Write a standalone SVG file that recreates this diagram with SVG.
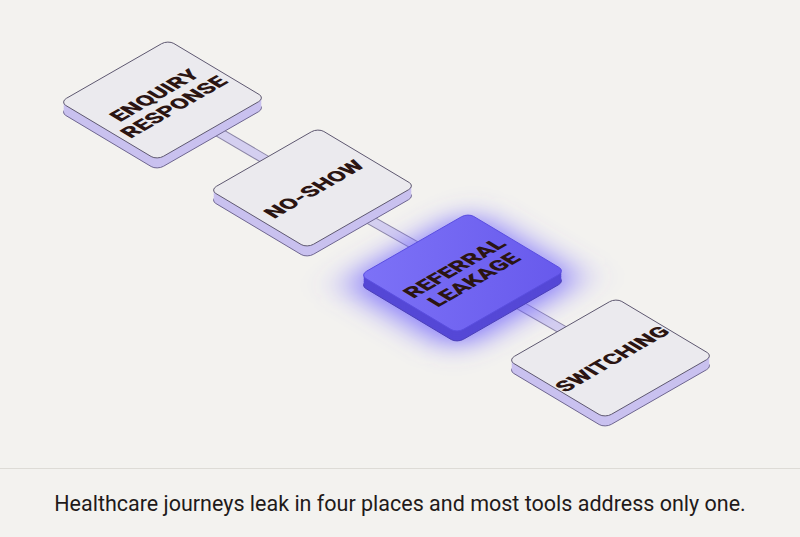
<svg xmlns="http://www.w3.org/2000/svg" width="800" height="537" viewBox="0 0 800 537">
<defs>
<style>
.side{fill:#c9c1ef;stroke:#6e6690;stroke-width:1}
.fill{fill:#c9c1ef}
.hfill{fill:#5548d6}
.top{fill:#ebeaee;stroke:#5e5870;stroke-width:1}
.hside{fill:#5548d6;stroke:#4a3fb8;stroke-width:1}
.htop{fill:url(#hg);stroke:#5a4ee0;stroke-width:1}
.lbl{font-family:Roboto,"Liberation Sans",sans-serif;font-weight:900;font-size:18px;fill:#2b1512;text-anchor:middle}
.bar{stroke:#8c86a6;stroke-width:10}
.barin{stroke:#d4cff0;stroke-width:8}
</style>
<rect id="ts" transform="matrix(1.08,-0.62,0.97,0.58,0,0)" width="100" height="100" rx="6" vector-effect="non-scaling-stroke"/>
<linearGradient id="hg" x1="0" y1="0" x2="1" y2="1"><stop offset="0" stop-color="#7d72f7"/><stop offset="1" stop-color="#6759ec"/></linearGradient>
<filter id="glow" x="-50%" y="-50%" width="200%" height="200%"><feGaussianBlur stdDeviation="14"/></filter>
</defs>
<rect width="800" height="537" fill="#f3f2ef"/>
<g id="connectors">
<line class="bar" x1="162" y1="99" x2="312" y2="187"/><line class="barin" x1="162" y1="99" x2="312" y2="187"/>
<line class="bar" x1="312" y1="187" x2="462" y2="272"/><line class="barin" x1="312" y1="187" x2="462" y2="272"/>
<line class="bar" x1="462" y1="272" x2="610" y2="357"/><line class="barin" x1="462" y1="272" x2="610" y2="357"/>
</g>
<g id="n1" transform="translate(60,102)">
<use href="#ts" class="side" y="10"/><use href="#ts" class="fill" y="8"/><use href="#ts" class="fill" y="6"/><use href="#ts" class="fill" y="4"/><use href="#ts" class="fill" y="2"/>
<use href="#ts" class="top"/>
<g transform="matrix(1.08,-0.62,0.97,0.58,0,0)"><text class="lbl" x="50" y="48">ENQUIRY</text><text class="lbl" x="50" y="68">RESPONSE</text></g>
</g>
<g id="n2" transform="translate(210,190)">
<use href="#ts" class="side" y="10"/><use href="#ts" class="fill" y="8"/><use href="#ts" class="fill" y="6"/><use href="#ts" class="fill" y="4"/><use href="#ts" class="fill" y="2"/>
<use href="#ts" class="top"/>
<g transform="matrix(1.08,-0.62,0.97,0.58,0,0)"><text class="lbl" x="50" y="58">NO-SHOW</text></g>
</g>
<g id="n3" transform="translate(360,275)">
<g transform="translate(0,8) matrix(1.08,-0.62,0.97,0.58,0,0)" filter="url(#glow)"><rect fill="#6a5cff" opacity="0.85" x="-8" y="-8" width="116" height="116" rx="10"/></g>
<use href="#ts" class="hside" y="10"/><use href="#ts" class="hfill" y="8"/><use href="#ts" class="hfill" y="6"/><use href="#ts" class="hfill" y="4"/><use href="#ts" class="hfill" y="2"/>
<use href="#ts" class="htop"/>
<g transform="matrix(1.08,-0.62,0.97,0.58,0,0)"><text class="lbl" x="50" y="48">REFERRAL</text><text class="lbl" x="50" y="68">LEAKAGE</text></g>
</g>
<g id="n4" transform="translate(508,360)">
<use href="#ts" class="side" y="10"/><use href="#ts" class="fill" y="8"/><use href="#ts" class="fill" y="6"/><use href="#ts" class="fill" y="4"/><use href="#ts" class="fill" y="2"/>
<use href="#ts" class="top"/>
<g transform="matrix(1.08,-0.62,0.97,0.58,0,0)"><text class="lbl" x="50" y="58">SWITCHING</text></g>
</g>
<line x1="0" y1="468.5" x2="800" y2="468.5" stroke="#dddbd6" stroke-width="1"/>
<text x="400" y="511" font-family="Roboto,'Liberation Sans',sans-serif" font-size="21.5" fill="#1f1a1a" text-anchor="middle">Healthcare journeys leak in four places and most tools address only one.</text>
</svg>
